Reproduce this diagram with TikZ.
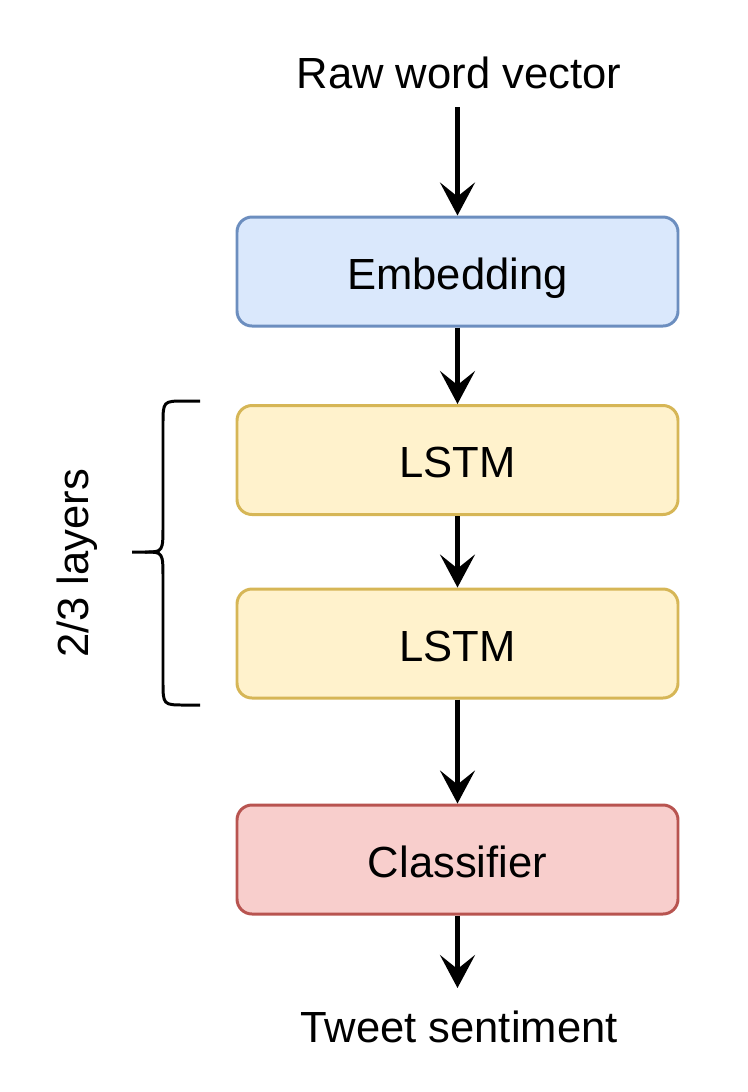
\documentclass[tikz,border=0pt]{standalone}
\usepackage{fontspec}
\setmainfont{Liberation Sans}
\usetikzlibrary{arrows.meta}
\definecolor{embfill}{HTML}{DAE8FC}
\definecolor{embline}{HTML}{6C8EBF}
\definecolor{lstmfill}{HTML}{FFF2CC}
\definecolor{lstmline}{HTML}{D6B656}
\definecolor{clsfill}{HTML}{F8CECC}
\definecolor{clsline}{HTML}{B85450}
\begin{document}
\begin{tikzpicture}[
 font=\fontsize{24.8}{30}\selectfont,
 box/.style={draw, line width=1.7pt, rounded corners=0.3cm, minimum width=8.82cm, minimum height=2.18cm, text height=0.8cm, text depth=0.1cm},
 arr/.style={line width=2.4pt, -{Stealth[length=0.66cm, width=0.7cm, inset=0.28cm]}}
]
 \useasboundingbox (0,0) rectangle (14.96,-21.84); %画像の大きさ
 \node[inner sep=0pt] (raw) at (9.18,-1.46) {Raw word vector}; %入力
 \node[box, fill=embfill, draw=embline] (emb) at (9.15,-5.43) {Embedding}; %埋め込み層
 \node[box, fill=lstmfill, draw=lstmline] (lstmA) at (9.15,-9.20) {LSTM}; %LSTM 1層目
 \node[box, fill=lstmfill, draw=lstmline] (lstmB) at (9.15,-12.87) {LSTM}; %LSTM 2層目
 \node[box, fill=clsfill, draw=clsline] (cls) at (9.15,-17.19) {Classifier}; %分類器
 \coordinate (out) at (9.15,-19.76); %出力矢印の先
 \node[inner sep=0pt] (tweet) at (9.18,-20.54) {Tweet sentiment}; %出力
 \draw[arr] ([yshift=-0.36cm]raw.south -| emb.north) -- (emb.north);
 \draw[arr] (emb.south) -- (lstmA.north);
 \draw[arr] (lstmA.south) -- (lstmB.north);
 \draw[arr] (lstmB.south) -- (cls.north);
 \draw[arr] (cls.south) -- (out);
 \coordinate (BT) at (4.00,-8.02); %括弧の上端
 \coordinate (BM) at (2.64,-11.04); %括弧の先
 \coordinate (BB) at (4.00,-14.10); %括弧の下端
 \draw[line width=1.7pt] (BT) -- (3.70,-8.02) .. controls (3.26,-8.02) .. (3.26,-8.50)
  -- (3.26,-10.50) .. controls (3.26,-11.04) .. (2.90,-11.04) -- (BM);
 \draw[line width=1.7pt] (BB) -- (3.70,-14.10) .. controls (3.26,-14.10) .. (3.26,-13.62)
  -- (3.26,-11.58) .. controls (3.26,-11.04) .. (2.90,-11.04);
 \node[rotate=90, inner sep=0pt] (layers) at (1.54,-11.27) {2/3 layers}; %層数
\end{tikzpicture}
\end{document}
